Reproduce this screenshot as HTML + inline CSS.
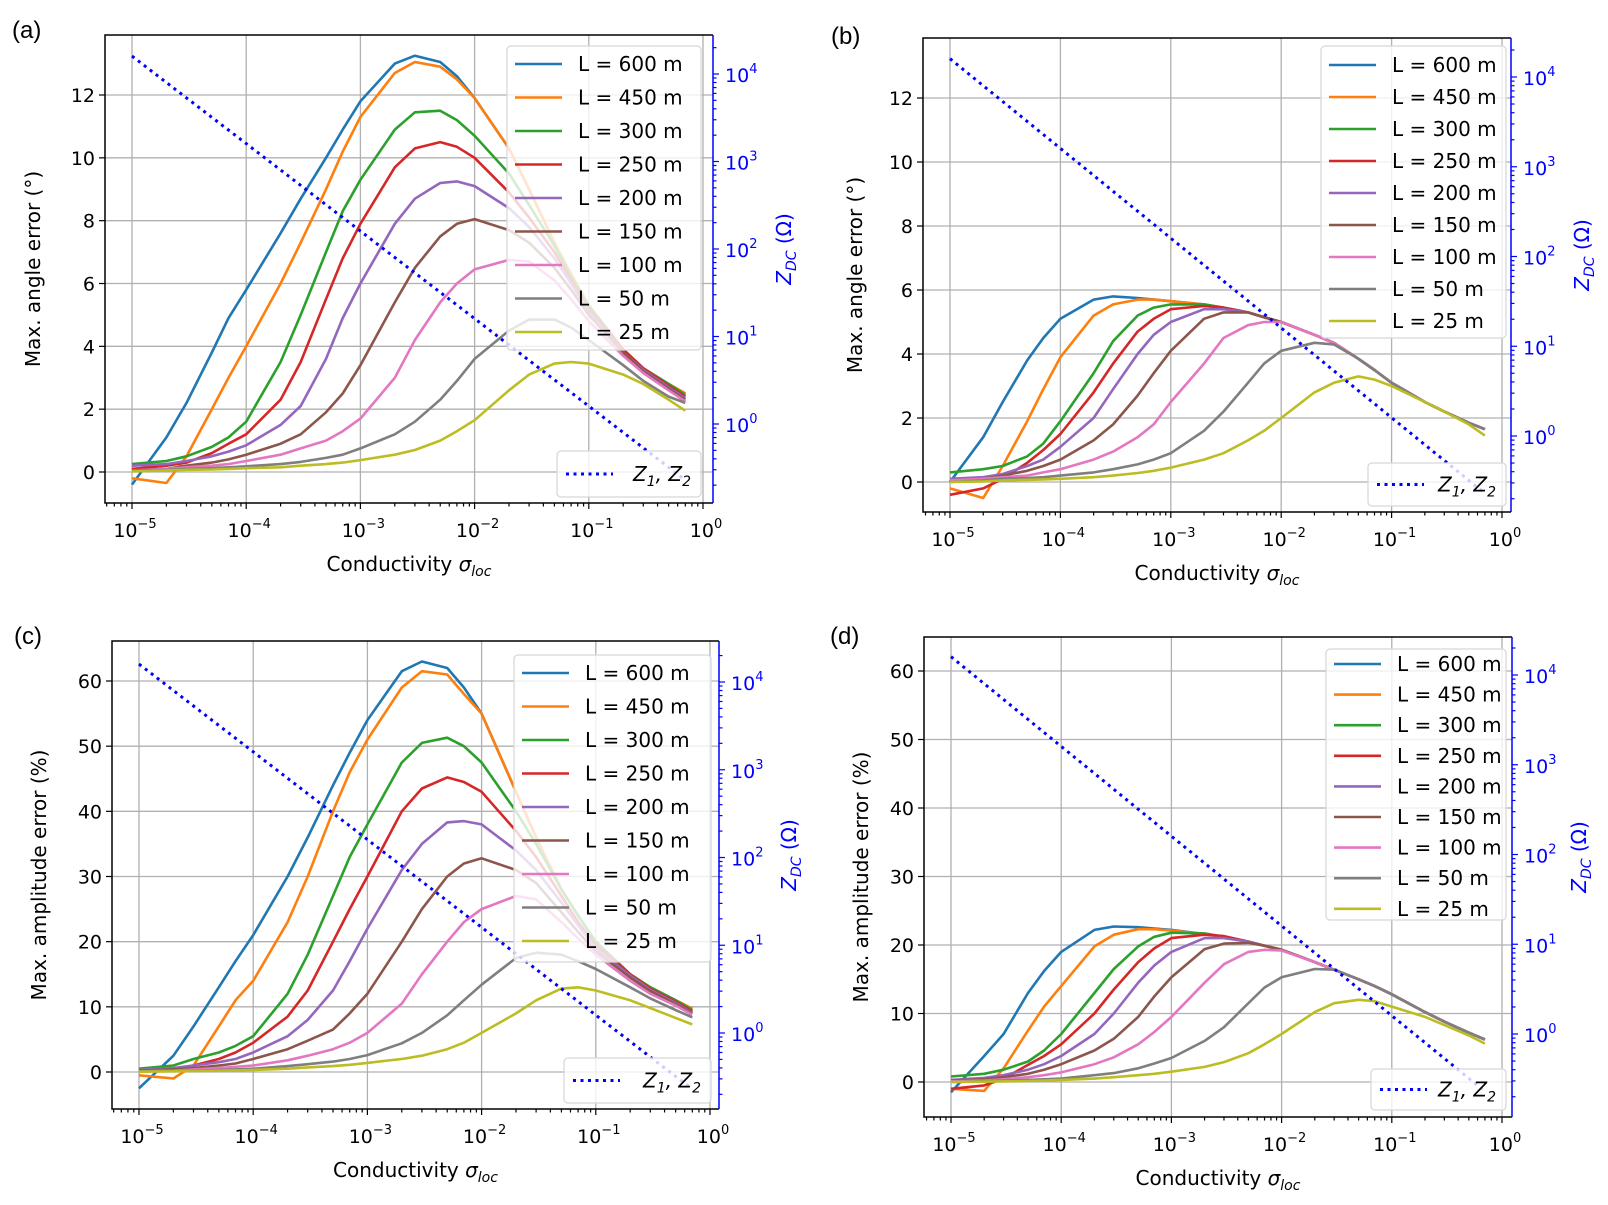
<!DOCTYPE html>
<html><head><meta charset="utf-8"><style>
html,body{margin:0;padding:0;background:#fff;}
svg{display:block;font-family:"DejaVu Sans","Liberation Sans",sans-serif;}
</style></head><body>
<svg id="fig" width="1608" height="1205" viewBox="0 0 1608 1205" xmlns="http://www.w3.org/2000/svg"></svg>
<script>
const sigma=[1e-5,2e-5,3e-5,5e-5,7e-5,1e-4,2e-4,3e-4,5e-4,7e-4,1e-3,2e-3,3e-3,5e-3,7e-3,1e-2,2e-2,3e-2,5e-2,7e-2,1e-1,2e-1,3e-1,5e-1,7e-1];
const zdc=[16000,8000,5333,3200,2286,1600,800,533,320,229,160,80,53.3,32,22.9,16,8,5.33,3.2,2.29,1.6,0.8,0.533,0.32,0.229];
const labels=["L = 600 m","L = 450 m","L = 300 m","L = 250 m","L = 200 m","L = 150 m","L = 100 m","L = 50 m","L = 25 m"];
const colors=["#1f77b4","#ff7f0e","#2ca02c","#d62728","#9467bd","#8c564b","#e377c2","#7f7f7f","#bcbd22"];
const dataA=[
[-0.4,1.1,2.2,3.8,4.9,5.8,7.6,8.7,10.0,10.9,11.8,13.0,13.25,13.05,12.6,11.9,10.3,9.0,7.3,6.3,5.3,3.9,3.3,2.8,2.5],
[-0.2,-0.35,0.5,2.0,3.0,4.0,6.0,7.3,9.0,10.2,11.3,12.7,13.05,12.9,12.5,11.9,10.3,9.0,7.3,6.3,5.3,3.9,3.3,2.8,2.5],
[0.25,0.35,0.5,0.8,1.1,1.6,3.5,5.0,7.0,8.3,9.3,10.9,11.45,11.5,11.2,10.7,9.5,8.5,7.2,6.2,5.3,3.9,3.3,2.8,2.45],
[0.1,0.2,0.3,0.6,0.9,1.2,2.3,3.5,5.5,6.8,7.9,9.7,10.3,10.5,10.35,10.0,8.9,8.1,7.0,6.1,5.2,3.9,3.3,2.75,2.4],
[0.2,0.25,0.35,0.5,0.65,0.85,1.5,2.1,3.6,4.9,6.0,7.9,8.7,9.2,9.25,9.1,8.4,7.8,6.8,6.0,5.1,3.8,3.25,2.7,2.35],
[0.05,0.1,0.2,0.3,0.4,0.55,0.9,1.2,1.9,2.5,3.4,5.4,6.5,7.5,7.9,8.05,7.7,7.3,6.5,5.8,5.0,3.8,3.2,2.65,2.3],
[0.05,0.1,0.15,0.2,0.25,0.35,0.55,0.75,1.0,1.3,1.7,3.0,4.2,5.4,6.0,6.45,6.75,6.7,6.1,5.5,4.8,3.7,3.15,2.6,2.25],
[0.05,0.07,0.1,0.12,0.15,0.18,0.25,0.32,0.45,0.55,0.75,1.2,1.6,2.3,2.9,3.6,4.5,4.85,4.85,4.6,4.2,3.4,2.9,2.4,2.2],
[0.02,0.05,0.07,0.08,0.1,0.12,0.15,0.2,0.25,0.3,0.38,0.55,0.7,1.0,1.3,1.65,2.6,3.1,3.45,3.5,3.45,3.1,2.8,2.3,1.95]];
const dataB=[
[0.0,1.4,2.5,3.8,4.5,5.1,5.7,5.8,5.75,5.7,5.65,5.55,5.45,5.3,5.15,5.0,4.6,4.35,3.85,3.5,3.1,2.5,2.2,1.85,1.65],
[-0.2,-0.5,0.5,1.9,2.9,3.9,5.2,5.55,5.7,5.7,5.65,5.55,5.45,5.3,5.15,5.0,4.6,4.35,3.85,3.5,3.1,2.5,2.2,1.85,1.65],
[0.3,0.4,0.5,0.8,1.2,1.9,3.4,4.4,5.2,5.45,5.55,5.55,5.45,5.3,5.15,5.0,4.6,4.35,3.85,3.5,3.1,2.5,2.2,1.85,1.65],
[-0.4,-0.2,0.1,0.6,1.0,1.5,2.8,3.7,4.7,5.1,5.4,5.5,5.45,5.3,5.15,5.0,4.6,4.35,3.85,3.5,3.1,2.5,2.2,1.85,1.65],
[0.1,0.15,0.25,0.5,0.7,1.1,2.0,2.9,4.0,4.6,5.0,5.4,5.4,5.3,5.15,5.0,4.6,4.35,3.85,3.5,3.1,2.5,2.2,1.85,1.65],
[0.05,0.1,0.2,0.35,0.5,0.7,1.3,1.8,2.7,3.4,4.1,5.1,5.3,5.3,5.15,5.0,4.6,4.35,3.85,3.5,3.1,2.5,2.2,1.85,1.65],
[0.05,0.1,0.15,0.2,0.3,0.4,0.7,0.95,1.4,1.8,2.5,3.7,4.5,4.9,5.0,5.0,4.6,4.35,3.85,3.5,3.1,2.5,2.2,1.85,1.65],
[0.0,0.05,0.1,0.12,0.15,0.2,0.3,0.4,0.55,0.7,0.9,1.6,2.2,3.1,3.7,4.1,4.35,4.3,3.85,3.5,3.1,2.5,2.2,1.85,1.65],
[0.0,0.02,0.05,0.07,0.08,0.1,0.15,0.2,0.28,0.35,0.45,0.7,0.9,1.3,1.6,2.0,2.8,3.1,3.3,3.2,3.0,2.5,2.2,1.8,1.45]];
const dataC=[
[-2.5,2.5,7,13,17,21,30,36,44,49,54,61.5,63,62,59,55,43,36,28,24,20,15,13,11,9.7],
[-0.5,-1,1,7,11,14,23,30,40,46,51,59,61.5,61,58,55,43,36,28,24,20,15,13,11,9.7],
[0.5,1,2,3,4,5.5,12,18,27,33,38,47.5,50.5,51.3,50,47.5,40,35,28,24,20,15,13,11,9.5],
[0,0.5,1,2,3,4.5,8.5,12.5,20,25,30,40,43.5,45.2,44.5,43,37,33,27,23,19.5,15,12.8,10.8,9.3],
[0.3,0.6,1,1.5,2,3,5.5,8,12.5,17,22,31,35,38.3,38.5,38,34,31,26,22.5,19,14.8,12.6,10.6,9.1],
[0.2,0.4,0.6,1,1.3,2,3.5,4.8,6.5,9,12,20,25,30,32,32.8,31,29,24.5,21.5,18.5,14.5,12.4,10.4,9],
[0.1,0.2,0.4,0.6,0.8,1,1.8,2.5,3.5,4.5,6,10.5,15,20,23,25,27,26.5,23,20.5,18,14,12,10.2,8.8],
[0.1,0.15,0.2,0.3,0.4,0.5,0.9,1.2,1.6,2,2.6,4.4,6,8.7,11,13.4,17.5,18.3,18,17,15.8,13,11.3,9.5,8.4],
[0.05,0.1,0.15,0.2,0.25,0.3,0.5,0.7,0.9,1.1,1.4,2,2.5,3.5,4.5,6,9,11,12.8,13,12.5,11,9.8,8.3,7.3]];
const dataD=[
[-1.5,3.8,7,13,16.2,19,22.2,22.7,22.6,22.4,22.2,21.6,21.2,20.5,19.9,19.3,17.5,16.4,15,14,12.8,10.2,8.8,7.2,6.2],
[-1,-1.3,2,7.5,11,14,19.8,21.5,22.3,22.3,22.1,21.6,21.2,20.5,19.9,19.3,17.5,16.4,15,14,12.8,10.2,8.8,7.2,6.2],
[0.8,1.2,1.8,3,4.6,7,13,16.5,19.8,21.2,21.8,21.7,21.2,20.5,19.9,19.3,17.5,16.4,15,14,12.8,10.2,8.8,7.2,6.2],
[-1,-0.5,0.5,2.5,3.8,5.5,10,13.5,17.5,19.5,21,21.5,21.3,20.5,19.9,19.3,17.5,16.4,15,14,12.8,10.2,8.8,7.2,6.2],
[0.3,0.6,1,1.8,2.6,3.8,7,10,14.5,17,19,21,21,20.5,19.9,19.3,17.5,16.4,15,14,12.8,10.2,8.8,7.2,6.2],
[0.2,0.4,0.7,1.2,1.8,2.6,4.6,6.3,9.5,12.5,15.3,19.4,20.2,20.3,19.9,19.3,17.5,16.4,15,14,12.8,10.2,8.8,7.2,6.2],
[0.1,0.2,0.4,0.7,1,1.4,2.6,3.6,5.5,7.3,9.5,14.5,17.2,19,19.3,19.2,17.5,16.4,15,14,12.8,10.2,8.8,7.2,6.2],
[0,0.1,0.2,0.3,0.4,0.5,1,1.3,2,2.7,3.5,6,8,11.5,13.8,15.3,16.5,16.4,15,14,12.8,10.2,8.8,7.2,6.2],
[0,0.05,0.1,0.15,0.2,0.3,0.5,0.7,1,1.2,1.5,2.2,2.9,4.2,5.5,7,10.2,11.5,12,11.8,11,9.5,8.3,6.8,5.6]];
const xTicks=[-5,-4,-3,-2,-1,0];
const angleTicks=[0,2,4,6,8,10,12];
const ampTicks=[0,10,20,30,40,50,60];
const zTicks=[0,1,2,3,4];

const NS="http://www.w3.org/2000/svg";
const fig=document.getElementById('fig');
function el(tag,attrs,parent){const e=document.createElementNS(NS,tag);for(const k in attrs)e.setAttribute(k,attrs[k]);(parent||fig).appendChild(e);return e;}

const panels=[
 {id:'a',letter:'(a)',lx:12,ly:38,L:105,R:713,T:35,B:503,x0:132,x1:703,yv0:0,yp0:472,yv1:12,yp1:95,yt:angleTicks,z0:424,z4:74,
  leg:[507,46,701,350,64,33.5],zleg:[557,451,701,497],yl:'Max. angle error (°)',ylx:40,zlx:791,data:dataA},
 {id:'b',letter:'(b)',lx:831,ly:44,L:923,R:1511,T:38,B:512,x0:950,x1:1502,yv0:0,yp0:482,yv1:12,yp1:98,yt:angleTicks,z0:436,z4:77,
  leg:[1321,46,1506,338,65,32],zleg:[1368,463,1506,506],yl:'Max. angle error (°)',ylx:862,zlx:1589,data:dataB},
 {id:'c',letter:'(c)',lx:14,ly:644,L:112,R:719,T:641,B:1109,x0:139,x1:710,yv0:0,yp0:1072,yv1:60,yp1:681,yt:ampTicks,z0:1033,z4:682,
  leg:[514,655,711,962,673,33.5],zleg:[564,1058,711,1103],yl:'Max. amplitude error (%)',ylx:46,zlx:796,data:dataC},
 {id:'d',letter:'(d)',lx:830,ly:644,L:924,R:1512,T:637,B:1117,x0:951,x1:1502,yv0:0,yp0:1082,yv1:60,yp1:671,yt:ampTicks,z0:1034,z4:675,
  leg:[1326,649,1506,920,664,30.6],zleg:[1371,1069,1506,1110],yl:'Max. amplitude error (%)',ylx:868,zlx:1586,data:dataD}
];

function supText(parent,x,y,base,sup,anchor,fill,name){
  const t=el('text',{x:x,y:y,'font-size':19,'text-anchor':anchor,fill:fill},parent);
  
  
  t.appendChild(document.createTextNode(base));
  const s=el('tspan',{dy:-9,'font-size':13},t);s.textContent=sup;
  return t;
}

panels.forEach(p=>{
  const g=el('g',{});
  
  
  const xs=v=>p.x0+(Math.log10(v)+5)*(p.x1-p.x0)/5;
  const ys=v=>p.yp0+(v-p.yv0)*(p.yp1-p.yp0)/(p.yv1-p.yv0);
  const zs=v=>p.z0+Math.log10(v)*(p.z4-p.z0)/4;
  const lt=el('text',{x:p.lx,y:p.ly,'font-size':24,'font-family':'Liberation Sans, sans-serif'},g);
  lt.textContent=p.letter;
  
  
  const cp=el('clipPath',{id:'clip'+p.id},g);
  el('rect',{x:p.L,y:p.T,width:p.R-p.L,height:p.B-p.T},cp);
  const grid=el('g',{stroke:'#b0b0b0','stroke-width':1.3},g);
  
  
  xTicks.forEach(e=>{const x=xs(Math.pow(10,e));el('line',{x1:x,x2:x,y1:p.T,y2:p.B},grid);});
  p.yt.forEach(v=>{const y=ys(v);el('line',{x1:p.L,x2:p.R,y1:y,y2:y},grid);});
  const sg=el('g',{'clip-path':'url(#clip'+p.id+')',fill:'none','stroke-width':2.6,'stroke-linejoin':'round'},g);
  
  
  p.data.forEach((arr,i)=>{
    const d=arr.map((v,j)=>(j?'L':'M')+xs(sigma[j]).toFixed(1)+','+ys(v).toFixed(1)).join('');
    const path=el('path',{d:d,stroke:colors[i]},sg);
    
    
  });
  const zd=zdc.map((v,j)=>(j?'L':'M')+xs(sigma[j]).toFixed(1)+','+zs(v).toFixed(1)).join('');
  const zp=el('path',{d:zd,stroke:'#0000ff','stroke-width':3,'stroke-dasharray':'3 4.5'},sg);
  
  
  const sp=el('g',{'stroke-width':1.5,fill:'none'},g);
  
  
  el('path',{d:`M${p.R},${p.T}H${p.L}V${p.B}H${p.R}`,stroke:'#000'},sp);
  el('line',{x1:p.R,x2:p.R,y1:p.T,y2:p.B,stroke:'#0000ff'},sp);
  const xt=el('g',{stroke:'#000','stroke-width':1.2},g);
  xTicks.forEach(e=>{
    const x=xs(Math.pow(10,e));
    el('line',{x1:x,x2:x,y1:p.B,y2:p.B+6},xt);
    supText(g,x+3,p.B+34,'10',e===0?'0':'\u2212'+(-e),'middle','#000','x-tick-label');
  });
  for(let e=-6;e<0;e++)for(let m=2;m<10;m++){const v=m*Math.pow(10,e);if(v<6e-6||v>1)continue;const x=xs(v);el('line',{x1:x,x2:x,y1:p.B,y2:p.B+3.5},xt);}
  p.yt.forEach(v=>{
    const y=ys(v);el('line',{x1:p.L-6,x2:p.L,y1:y,y2:y},xt);
    const t=el('text',{x:p.L-10,y:y+7,'font-size':19,'text-anchor':'end'},g);
    t.textContent=v;
    
    
  });
  const rt=el('g',{stroke:'#0000ff','stroke-width':1.2},g);
  zTicks.forEach(e=>{
    const y=zs(Math.pow(10,e));el('line',{x1:p.R,x2:p.R+6,y1:y,y2:y},rt);
    supText(g,p.R+12,y+8,'10',String(e),'start','#0000ff','right-tick-label');
  });
  for(let e=-1;e<5;e++)for(let m=2;m<10;m++){const v=m*Math.pow(10,e);const y=zs(v);if(y<p.T||y>p.B)continue;el('line',{x1:p.R,x2:p.R+3.5,y1:y,y2:y},rt);}
  const xl=el('text',{x:(p.L+p.R)/2,y:p.B+68,'font-size':20,'text-anchor':'middle'},g);
  
  
  xl.appendChild(document.createTextNode('Conductivity '));
  const sg1=el('tspan',{'font-style':'italic'},xl);sg1.textContent='σ';
  const sg2=el('tspan',{'font-style':'italic','font-size':14,dy:5},xl);sg2.textContent='loc';
  const ylab=el('text',{x:0,y:0,'font-size':20,'text-anchor':'middle',transform:`translate(${p.ylx},${(p.T+p.B)/2}) rotate(-90)`},g);
  ylab.textContent=p.yl;
  
  
  const zl=el('text',{x:0,y:0,'font-size':20,'text-anchor':'middle',fill:'#0000ff',transform:`translate(${p.zlx},${(p.T+p.B)/2-20}) rotate(-90)`},g);
  
  
  const z1=el('tspan',{'font-style':'italic'},zl);z1.textContent='Z';
  const z2=el('tspan',{'font-style':'italic','font-size':14,dy:5},zl);z2.textContent='DC';
  const z3=el('tspan',{dy:-5},zl);z3.textContent=' (Ω)';
  const [lx0,ly0,lx1,ly1,lf,ls]=p.leg;
  const lg=el('g',{},g);
  
  
  el('rect',{x:lx0,y:ly0,width:lx1-lx0,height:ly1-ly0,rx:4,fill:'rgba(255,255,255,0.8)',stroke:'#d8d8d8','stroke-width':1.3},lg);
  labels.forEach((lab,i)=>{
    const y=lf+i*ls;
    const e=el('g',{},lg);
    
    
    el('line',{x1:lx0+8,x2:lx0+55,y1:y,y2:y,stroke:colors[i],'stroke-width':2.6},e);
    const t=el('text',{x:lx0+71,y:y+7,'font-size':20},e);t.textContent=lab;
  });
  const [zx0,zy0,zx1,zy1]=p.zleg;
  const zg=el('g',{},g);
  
  
  el('rect',{x:zx0,y:zy0,width:zx1-zx0,height:zy1-zy0,rx:4,fill:'rgba(255,255,255,0.8)',stroke:'#d8d8d8','stroke-width':1.3},zg);
  const zy=(zy0+zy1)/2;
  el('line',{x1:zx0+9,x2:zx0+56,y1:zy,y2:zy,stroke:'#0000ff','stroke-width':3,'stroke-dasharray':'3 4.5'},zg);
  const zt=el('text',{x:zx1-10,y:zy+7,'font-size':20,'text-anchor':'end','font-style':'italic'},zg);
  const a1=el('tspan',{},zt);a1.textContent='Z';
  const a2=el('tspan',{'font-size':14,dy:5},zt);a2.textContent='1';
  const a3=el('tspan',{dy:-5},zt);a3.textContent=', Z';
  const a4=el('tspan',{'font-size':14,dy:5},zt);a4.textContent='2';
});
</script>
</body></html>
